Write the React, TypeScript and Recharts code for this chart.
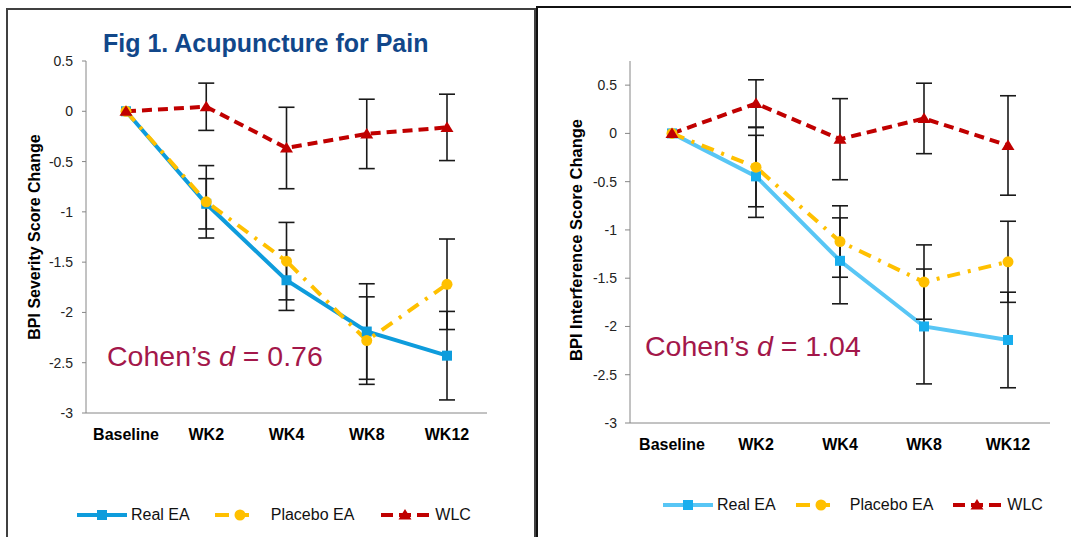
import React from "react"
import { LineChart, Line, XAxis, YAxis, ErrorBar } from "recharts"

const FONT = "'Liberation Sans', Arial, sans-serif"

const categories = ["Baseline", "WK2", "WK4", "WK8", "WK12"]

// Fig 1 left: BPI severity
const severityReal = [0, -0.92, -1.68, -2.19, -2.43]
const severityRealErr = [0, 0.25, 0.3, 0.475, 0.44]
const severityPlacebo = [0, -0.9, -1.49, -2.28, -1.72]
const severityPlaceboErr = [0, 0.36, 0.385, 0.435, 0.45]
const severityWlc = [0, 0.045, -0.365, -0.225, -0.16]
const severityWlcErr = [0, 0.235, 0.405, 0.345, 0.33]
const severityTicks = [0.5, 0, -0.5, -1, -1.5, -2, -2.5, -3]

// right: BPI interference
const interfReal = [0, -0.445, -1.32, -2.0, -2.14]
const interfRealErr = [0, 0.425, 0.445, 0.595, 0.495]
const interfPlacebo = [0, -0.35, -1.12, -1.54, -1.33]
const interfPlaceboErr = [0, 0.41, 0.37, 0.385, 0.42]
const interfWlc = [0, 0.31, -0.06, 0.155, -0.125]
const interfWlcErr = [0, 0.245, 0.42, 0.365, 0.515]
const interfTicks = [0.5, 0, -0.5, -1, -1.5, -2, -2.5, -3]

const severityData = categories.map((cat, i) => ({
  cat,
  real: severityReal[i],
  realErr: severityRealErr[i],
  placebo: severityPlacebo[i],
  placeboErr: severityPlaceboErr[i],
  wlc: severityWlc[i],
  wlcErr: severityWlcErr[i],
}))

const interfData = categories.map((cat, i) => ({
  cat,
  real: interfReal[i],
  realErr: interfRealErr[i],
  placebo: interfPlacebo[i],
  placeboErr: interfPlaceboErr[i],
  wlc: interfWlc[i],
  wlcErr: interfWlcErr[i],
}))

const YELLOW = "#FFC000"
const RED = "#C00000"
const PLACEBO_DASH = "13 8 3 8"
const WLC_DASH = "10 6"

const squareDot = (fill: string, size: number) => (p: any) => (
  <rect key={`sq-${p.index}`} x={p.cx - size / 2} y={p.cy - size / 2} width={size} height={size} fill={fill} />
)
const circleDot = (fill: string, r: number) => (p: any) => (
  <circle key={`ci-${p.index}`} cx={p.cx} cy={p.cy} r={r} fill={fill} />
)
const triangleDot = (fill: string) => (p: any) => (
  <polygon
    key={`tr-${p.index}`}
    points={`${p.cx},${p.cy - 6} ${p.cx + 6.5},${p.cy + 4.5} ${p.cx - 6.5},${p.cy + 4.5}`}
    fill={fill}
  />
)

interface PanelProps {
  data: typeof severityData
  ticks: number[]
  domain: [number, number]
  width: number
  height: number
  yAxisWidth: number
  margin: { top: number; right: number; bottom: number; left: number }
  pad: number
  tickSize: number
  tickMargin: number
  realLine: string
  realMarker: string
}

function Panel(props: PanelProps) {
  const { data, ticks, domain, width, height, yAxisWidth, margin, pad, realLine, realMarker } = props
  return (
    <LineChart width={width} height={height} data={data} margin={margin}>
      <XAxis
        dataKey="cat"
        interval={0}
        padding={{ left: pad, right: pad }}
        tickLine={false}
        tickSize={0}
        tickMargin={16}
        height={40}
        axisLine={{ stroke: "#868686" }}
        tick={{ fontSize: 16, fontWeight: "bold", fill: "#000", fontFamily: FONT }}
      />
      <YAxis
        type="number"
        domain={domain}
        ticks={ticks}
        width={yAxisWidth}
        tickSize={props.tickSize}
        tickMargin={props.tickMargin}
        axisLine={{ stroke: "#868686" }}
        tickLine={{ stroke: "#868686" }}
        tick={{ fontSize: 14, fill: "#222", fontFamily: FONT }}
      />
      <Line
        dataKey="real"
        type="linear"
        stroke={realLine}
        strokeWidth={4}
        dot={squareDot(realMarker, 10)}
        activeDot={false}
        isAnimationActive={false}
      >
        <ErrorBar dataKey="realErr" direction="y" width={8} stroke="#1a1a1a" strokeWidth={1.6} />
      </Line>
      <Line
        dataKey="placebo"
        type="linear"
        stroke={YELLOW}
        strokeWidth={4}
        strokeDasharray={PLACEBO_DASH}
        dot={circleDot(YELLOW, 5.5)}
        activeDot={false}
        isAnimationActive={false}
      >
        <ErrorBar dataKey="placeboErr" direction="y" width={8} stroke="#1a1a1a" strokeWidth={1.6} />
      </Line>
      <Line
        dataKey="wlc"
        type="linear"
        stroke={RED}
        strokeWidth={4}
        strokeDasharray={WLC_DASH}
        dot={triangleDot(RED)}
        activeDot={false}
        isAnimationActive={false}
      >
        <ErrorBar dataKey="wlcErr" direction="y" width={8} stroke="#1a1a1a" strokeWidth={1.6} />
      </Line>
    </LineChart>
  )
}

function LegendRow({ left, top, realColor, realMarker, gaps }: { left: number; top: number; realColor: string; realMarker: string; gaps: number[] }) {
  const text: React.CSSProperties = { fontSize: 16, color: "#111", fontFamily: FONT, whiteSpace: "nowrap" }
  return (
    <div style={{ position: "absolute", left, top, display: "flex", alignItems: "center" }}>
      <svg width={50} height={14}>
        <line x1={0} y1={7} x2={50} y2={7} stroke={realColor} strokeWidth={4} />
        <rect x={20} y={2} width={10} height={10} fill={realMarker} />
      </svg>
      <span style={{ ...text, marginLeft: 4 }}>Real EA</span>
      <svg width={34} height={14} style={{ marginLeft: gaps[0] }}>
        <line x1={0} y1={7} x2={14} y2={7} stroke={YELLOW} strokeWidth={4} />
        <line x1={20} y1={7} x2={34} y2={7} stroke={YELLOW} strokeWidth={4} />
        <circle cx={25} cy={7} r={5.5} fill={YELLOW} />
      </svg>
      <span style={{ ...text, marginLeft: gaps[1] }}>Placebo EA</span>
      <svg width={48} height={14} style={{ marginLeft: gaps[2] }}>
        <line x1={0} y1={7} x2={48} y2={7} stroke={RED} strokeWidth={4} strokeDasharray="12 6" />
        <polygon points="24,1 30.5,11.5 17.5,11.5" fill={RED} />
      </svg>
      <span style={{ ...text, marginLeft: 6 }}>WLC</span>
    </div>
  )
}

export default function App() {
  return (
    <div style={{ position: "absolute", left: 0, top: 0, width: 1071, height: 537, overflow: "hidden", background: "#fff", fontFamily: FONT }}>
      {/* panel frames */}
      <div style={{ position: "absolute", left: 6, top: 8, width: 526, height: 600, border: "2px solid #404040" }} />
      <div style={{ position: "absolute", left: 536, top: 6, width: 600, height: 600, border: "2px solid #111" }} />

      <div style={{ position: "absolute", left: 7, top: 9 }}>
        <Panel
          data={severityData}
          ticks={severityTicks}
          domain={[-3, 0.5]}
          width={528}
          height={520}
          yAxisWidth={79}
          margin={{ top: 52, right: 48, bottom: 76, left: 0 }}
          pad={40}
          tickSize={4}
          tickMargin={9}
          realLine="#0E9CDC"
          realMarker="#0E9CDC"
        />
      </div>
      <div style={{ position: "absolute", left: 537, top: 7 }}>
        <Panel
          data={interfData}
          ticks={interfTicks}
          domain={[-3, 0.75]}
          width={534}
          height={530}
          yAxisWidth={93}
          margin={{ top: 54, right: 21, bottom: 74, left: 0 }}
          pad={42}
          tickSize={5}
          tickMargin={8}
          realLine="#58C6F5"
          realMarker="#18AEEE"
        />
      </div>

      <div style={{ position: "absolute", left: 103, top: 31, fontSize: 25, lineHeight: 1, fontWeight: "bold", color: "#11478A", whiteSpace: "nowrap" }}>
        Fig 1. Acupuncture for Pain
      </div>

      <div style={{ position: "absolute", left: 35, top: 237, transform: "translate(-50%, -50%) rotate(-90deg)", fontSize: 16, lineHeight: 1, fontWeight: "bold", whiteSpace: "nowrap", color: "#000" }}>
        BPI Severity Score Change
      </div>
      <div style={{ position: "absolute", left: 576, top: 240, transform: "translate(-50%, -50%) rotate(-90deg)", fontSize: 16.5, lineHeight: 1, fontWeight: "bold", whiteSpace: "nowrap", color: "#000" }}>
        BPI Interference Score Change
      </div>

      <div style={{ position: "absolute", left: 107, top: 342, fontSize: 28.5, lineHeight: 1, color: "#A3174A", whiteSpace: "nowrap" }}>
        Cohen’s <i>d</i> = 0.76
      </div>
      <div style={{ position: "absolute", left: 645, top: 332, fontSize: 28.5, lineHeight: 1, color: "#A3174A", whiteSpace: "nowrap" }}>
        Cohen’s <i>d</i> = 1.04
      </div>

      <LegendRow left={77} top={506} realColor="#0E9CDC" realMarker="#0E9CDC" gaps={[25, 22, 27]} />
      <LegendRow left={663} top={496} realColor="#58C6F5" realMarker="#18AEEE" gaps={[20, 20, 20]} />
    </div>
  )
}
